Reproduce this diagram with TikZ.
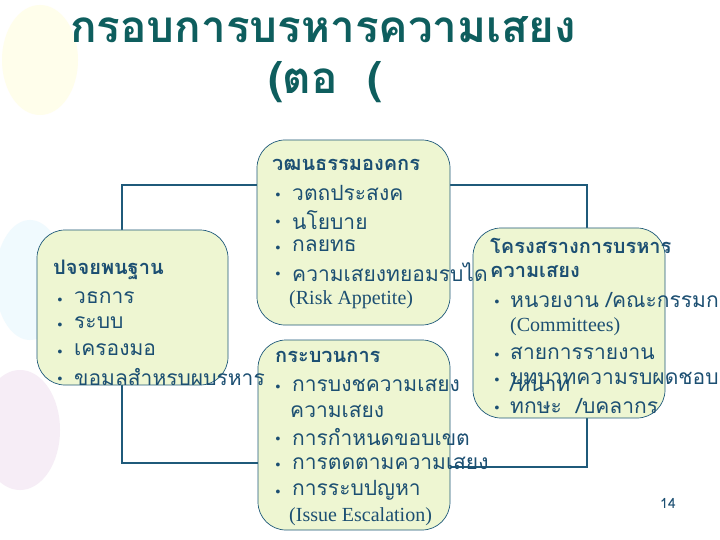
\documentclass[tikz,border=0pt]{standalone}
\usepackage{fontspec}
\newfontfamily\thai[Script=Thai]{Loma}
\newfontfamily\lat{Liberation Serif}
\definecolor{ttl}{HTML}{0E5E5E}
\definecolor{txt}{HTML}{1C4F72}
\definecolor{lin}{HTML}{1F5A7A}
\definecolor{boxf}{HTML}{EEF6D2}
\begin{document}
\begin{tikzpicture}[x=1pt,y=-1pt,
  box/.style={draw=lin,fill=boxf,rounded corners=28pt,line width=0.7pt},
  conn/.style={draw=lin,line width=2.2pt},
  tl/.style={anchor=west,inner sep=0pt,text=txt,font=\thai\fontsize{21}{21}\selectfont},
  hd/.style={anchor=west,inner sep=0pt,text=txt,font=\thai\bfseries\fontsize{20}{20}\selectfont},
  bl/.style={anchor=center,inner sep=0pt,text=txt,yshift=-3pt,font=\fontsize{17}{17}\selectfont}]
\useasboundingbox (0,0) rectangle (720,540);
\fill[white] (0,0) rectangle (720,540);
% faint decorations
\fill[yellow!8] (40,60) ellipse (38 and 55);
\fill[cyan!6] (30,280) ellipse (35 and 60);
\fill[violet!7] (20,430) ellipse (40 and 60);
% connectors (drawn first, boxes cover them)
\coordinate (c1) at (122,185); \coordinate (c2) at (587,185);
\coordinate (c3) at (122,463); \coordinate (c4) at (587,467);
\coordinate (lt) at (122,300); \coordinate (tl0) at (353,185);
\coordinate (rt) at (587,323); \coordinate (pl) at (354,463); \coordinate (pr) at (354,467);
\draw[conn] (lt) -- (c1) -- (tl0);
\draw[conn] (tl0) -- (c2) -- (rt);
\draw[conn] (lt) -- (c3) -- (pl);
\draw[conn] (pr) -- (c4) -- (rt);
\node[box,minimum width=193pt,minimum height=185pt] (top) at (353.5,232.5) {};
\node[box,minimum width=191pt,minimum height=155pt] (left) at (132.5,307.5) {};
\node[box,minimum width=192pt,minimum height=190pt] (proc) at (354,435) {};
\node[box,minimum width=192pt,minimum height=190pt] (right) at (569,323) {};
% title
\node[text=ttl,font=\thai\bfseries\fontsize{44}{44}\selectfont,inner sep=0pt] (t1) at (323,30) {กรอบการบรหารความเสยง};
\node[text=ttl,font=\thai\bfseries\fontsize{44}{44}\selectfont,inner sep=0pt,anchor=west] (t2) at (268,82) {(ตอ\ \ (};
% top box
\node[hd] (a0) at (272,165) {วฒนธรรมองคกร};
\foreach \y/\t [count=\i] in {193/วตถประสงค,220/นโยบาย,246/กลยทธ,272/ความเสยงทยอมรบได}{
  \node[bl] (ab\i) at (278,\y) {•}; \node[tl] (a\i) at (292,\y) {\t};}
\node[tl,font=\lat\fontsize{20}{20}\selectfont] (a5) at (289,300) {(Risk Appetite)};
% left box
\node[hd] (b0) at (53,270) {ปจจยพนฐาน};
\foreach \y/\t [count=\i] in {298/วธการ,323/ระบบ,350/เครองมอ,377/ขอมลสำหรบผบรหาร}{
  \node[bl] (bb\i) at (60,\y) {•}; \node[tl] (b\i) at (74,\y) {\t};}
% right box
\node[hd] (r0) at (490,246) {โครงสรางการบรหาร};
\node[hd] (r00) at (490,272) {ความเสยง};
\node[bl] (rb1) at (497,300) {•}; \node[tl] (r1) at (510,300) {หนวยงาน /คณะกรรมการ};
\node[tl,font=\lat\fontsize{20}{20}\selectfont] (r2) at (510,327) {(Committees)};
\node[bl] (rb3) at (497,353) {•}; \node[tl] (r3) at (510,353) {สายการรายงาน};
\node[bl] (rb4) at (497,378) {•}; \node[tl] (r4) at (510,378) {บทบาทความรบผดชอบ};
\node[tl] (r4b) at (510,384) {/หนาท};
\node[bl] (rb5) at (497,406) {•}; \node[tl] (r5) at (510,406) {ทกษะ \ /บคลากร};
% process box
\node[hd] (p0) at (275,357) {กระบวนการ};
\node[bl] (pb1) at (278,385) {•}; \node[tl] (p1) at (292,385) {การบงชความเสยง};
\node[tl] (p2) at (290,411) {ความเสยง};
\foreach \y/\t [count=\i from 3] in {437/การกำหนดขอบเขต,463/การตดตามความเสยง,490/การระบปญหา}{
  \node[bl] (pb\i) at (278,\y) {•}; \node[tl] (p\i) at (292,\y) {\t};}
\node[tl,font=\lat\fontsize{20}{20}\selectfont] (p6) at (289,517) {(Issue Escalation)};
\node[text=txt,font=\thai\fontsize{14}{14}\selectfont] (pg) at (668,503) {14};
\end{tikzpicture}
\end{document}
